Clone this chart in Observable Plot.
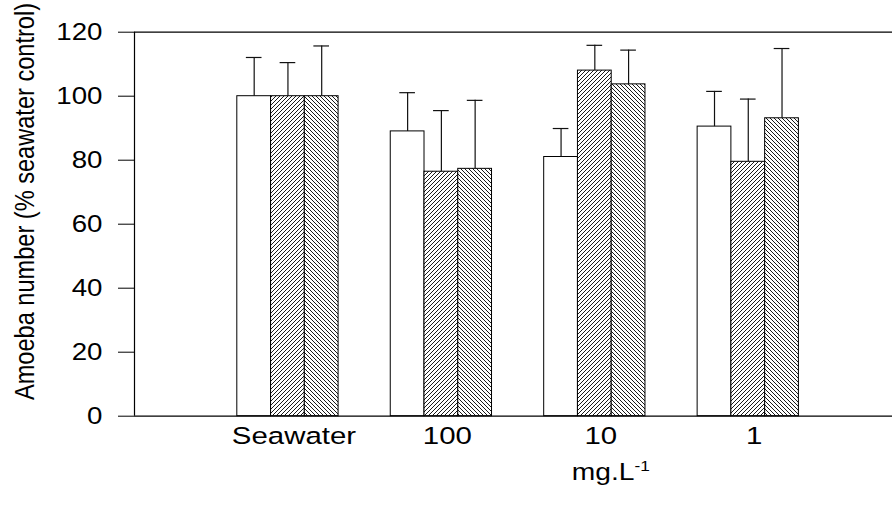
<!DOCTYPE html>
<html><head><meta charset="utf-8">
<script src="https://cdn.jsdelivr.net/npm/d3@7"></script>
<script src="https://cdn.jsdelivr.net/npm/@observablehq/plot@0.6"></script>
<style>body{margin:0;background:#fff}</style>
</head><body><div id="chart"></div>
<script>
// ---- data ----
const groups = ["Seawater", "100", "10", "1"];
const openValues   = [100, 89.0, 81.0, 90.5];
const openErrors   = [12.1, 12.1, 8.9, 11.0];
const fwdValues    = [100, 76.4, 108.0, 79.5];
const fwdErrors    = [10.5, 19.1, 7.9, 19.6];
const backValues   = [100, 77.3, 103.7, 93.1];
const backErrors   = [15.7, 21.4, 10.7, 21.8];
const yTicks = [0, 20, 40, 60, 80, 100, 120];
const yTitle = "Amoeba number (% seawater control)";
const unitLabel = "mg.L";
const unitSup = "-1";

const series = [
  {values: openValues, errors: openErrors, fill: "#fff"},
  {values: fwdValues, errors: fwdErrors, fill: "url(#hatchF)"},
  {values: backValues, errors: backErrors, fill: "url(#hatchB)"}
];
const barW = 0.22, capHalf = 0.051;
const rows = [];
series.forEach((s, si) => groups.forEach((g, gi) => {
  const xc = gi + 1 + (si - 1) * barW;
  rows.push({group: g, si, xc, value: s.values[gi], top: s.values[gi] + s.errors[gi]});
}));

const font = '"Liberation Sans", Arial, sans-serif';
const svg = Plot.plot({
  width: 892, height: 514,
  marginLeft: 134, marginRight: 0, marginTop: 31.7, marginBottom: 98.3,
  style: {fontFamily: font, fontSize: "24px", background: "#fff", color: "#000"},
  x: {domain: [0, 4.94], axis: null},
  y: {domain: [0, 120], axis: null},
  marks: [
    Plot.axisY({ticks: yTicks, tickSize: 16, tickPadding: 16, label: null, fontSize: 24.5, tickFormat: d => String(d)}),
    Plot.axisX({ticks: [1, 2, 3, 4], tickFormat: i => groups[i - 1], tickSize: 0, tickPadding: 10, label: null, fontSize: 24.5, dx: 6}),
    ...series.map((s, si) => Plot.rectY(rows.filter(d => d.si === si), {
      x1: d => d.xc - barW / 2, x2: d => d.xc + barW / 2, y1: 0, y2: "value",
      fill: s.fill, stroke: "#000", strokeWidth: 1
    })),
    Plot.ruleX(rows, {x: "xc", y1: "value", y2: "top", stroke: "#111", strokeWidth: 1.2}),
    Plot.ruleY(rows, {x1: d => d.xc - capHalf, x2: d => d.xc + capHalf, y: "top", stroke: "#111", strokeWidth: 1.2}),
    Plot.ruleX([0], {y1: 0, y2: 120, stroke: "#000", strokeWidth: 1.2}),
    Plot.ruleY([0, 120], {stroke: "#000", strokeWidth: 1.3}),
    Plot.text([yTitle], {text: d => d, frameAnchor: "left", rotate: -90, dx: -110, dy: -22.7,
      textAnchor: "middle", lineAnchor: "middle", fontSize: 23.6, className: "y-title"}),
    Plot.text([unitLabel], {text: d => d, x: 3, frameAnchor: "bottom", dx: 16, dy: 55.5,
      textAnchor: "middle", lineAnchor: "middle", fontSize: 24.5, className: "unit-label"})
  ]
});

// hatch patterns
const defs = d3.select(svg).insert("defs", ":first-child");
const mk = (id, d) => {
  const p = defs.append("pattern").attr("id", id).attr("patternUnits", "userSpaceOnUse")
    .attr("width", 4).attr("height", 4);
  p.append("rect").attr("width", 4).attr("height", 4).attr("fill", "#fff");
  p.append("path").attr("d", d).attr("stroke", "#000").attr("stroke-width", 0.9).attr("fill", "none");
};
mk("hatchF", "M-1,1 L1,-1 M0,4 L4,0 M3,5 L5,3");
mk("hatchB", "M-1,3 L1,5 M0,0 L4,4 M3,-1 L5,1");

// superscript for the unit
d3.select(svg).selectAll(".unit-label text").each(function () {
  d3.select(this).append("tspan").attr("dy", "-0.55em").attr("font-size", "15px").text(unitSup);
});

document.getElementById("chart").appendChild(svg);

// the reference lettering is a little wider than the font: stretch it horizontally
function stretch(selector, k) {
  d3.select(svg).selectAll(selector).each(function () {
    const L = this.getComputedTextLength();
    this.setAttribute("textLength", (L * k).toFixed(1));
    this.setAttribute("lengthAdjust", "spacingAndGlyphs");
  });
}
stretch('g[aria-label="x-axis tick label"] text', 1.2);
stretch('g[aria-label="y-axis tick label"] text', 1.13);
stretch('.unit-label text', 1.15);
d3.select(svg).selectAll(".y-title text").each(function () {
  const t = this.getAttribute("transform") || "";
  this.setAttribute("transform", t.replace("rotate(", "scale(1.2,1) rotate("));
});
</script>
</body></html>
